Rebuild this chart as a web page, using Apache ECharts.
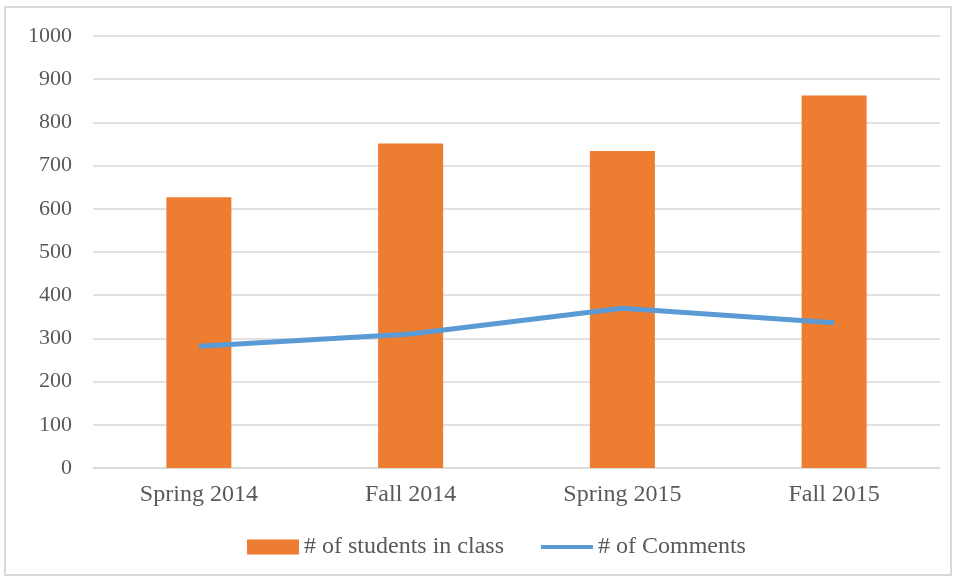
<!DOCTYPE html>
<html>
<head>
<meta charset="utf-8">
<script src="https://cdn.jsdelivr.net/npm/echarts@6/dist/echarts.min.js"></script>
<style>
  html, body { margin: 0; padding: 0; background: #fff; }
  #frame { position: absolute; left: 4px; top: 6px; width: 948px; height: 570px; border: 2px solid #d9d9d9; box-sizing: border-box; }
  #chart { position: absolute; left: 0; top: 0; width: 958px; height: 580px; }
</style>
</head>
<body>
<div id="frame"></div>
<div id="chart"></div>
<script>
const categories = ['Spring 2014', 'Fall 2014', 'Spring 2015', 'Fall 2015'];
const students = [627, 751, 734, 862];
const comments = [282, 310, 370, 336];

const myChart = echarts.init(document.getElementById('chart'));
const font = '"Liberation Serif", "Times New Roman", serif';

// thin bar in the middle of a 52x15 box, so the legend shows a thick line and no dot
const lineIcon = 'path://M0,0 L52,0 L52,0.01 Z M0,5.5 L52,5.5 L52,9.5 L0,9.5 Z M0,15 L52,15 L52,15.01 Z';

const option = {
  animation: false,
  textStyle: { fontFamily: font },
  grid: { left: 93, right: 18, top: 36, bottom: 112 },
  legend: {
    bottom: 16,
    left: 242,
    itemWidth: 52,
    itemHeight: 15,
    itemGap: 37,
    textStyle: { fontFamily: font, fontSize: 24, color: '#595959' },
    data: [
      { name: '# of students in class', icon: 'rect' },
      { name: '# of Comments', icon: lineIcon }
    ]
  },
  xAxis: {
    type: 'category',
    data: categories,
    axisLine: { lineStyle: { color: '#d9d9d9', width: 1.5 } },
    axisTick: { show: false },
    axisLabel: { fontFamily: font, fontSize: 24, color: '#595959', margin: 15 }
  },
  yAxis: {
    type: 'value',
    min: 0,
    max: 1000,
    interval: 100,
    axisLine: { show: false },
    axisTick: { show: false },
    splitLine: { lineStyle: { color: '#d9d9d9', width: 1.5 } },
    axisLabel: { fontFamily: font, fontSize: 22, color: '#595959', margin: 21, formatter: v => String(v) }
  },
  series: [
    {
      name: '# of students in class',
      type: 'bar',
      data: students,
      barWidth: '30.7%',
      itemStyle: { color: '#ED7D31' }
    },
    {
      name: '# of Comments',
      type: 'line',
      data: comments,
      symbol: 'none',
      lineStyle: { color: '#5B9BD5', width: 5 },
      itemStyle: { color: '#5B9BD5' }
    }
  ]
};

myChart.setOption(option);
</script>
</body>
</html>
